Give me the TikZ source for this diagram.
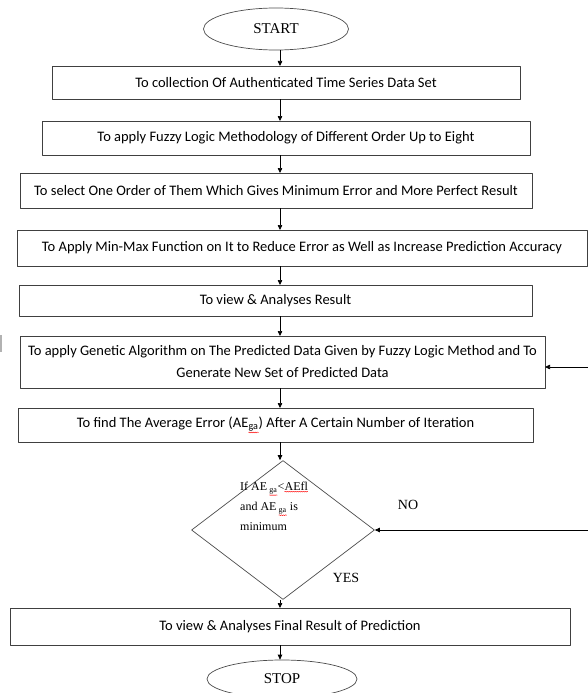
\documentclass[tikz,border=0pt]{standalone}
\usepackage{fontspec}
\setmainfont{Carlito}
\newfontfamily\serifface{Liberation Serif}
\usetikzlibrary{arrows.meta,shapes.geometric,decorations.pathmorphing}
\newcommand\redwave[1]{\tikz[baseline=(w.base)]{\node[rectangle, inner sep=0pt, outer sep=0pt, draw=none,
        minimum width=0pt, minimum height=0pt] (w) {#1};
    \draw[red, line width=0.4pt, decorate, decoration={snake,amplitude=0.5pt,segment length=2pt}]
        ([yshift=-1pt]w.south west) -- ([yshift=-1pt]w.south east);}}
\tikzset{
    procbox/.style={
        draw=black!75, line width=0.8pt, inner sep=2pt, outer sep=0pt,
        align=center, font=\fontsize{14.5}{22}\selectfont
    },
    termnode/.style={
        ellipse, draw=black!70, line width=0.7pt, inner sep=0pt,
        font=\serifface\fontsize{15}{18}\selectfont
    },
    flow/.style={
        -{Triangle[length=5pt,width=4.5pt]}, line width=0.7pt
    },
    lab/.style={
        font=\serifface\fontsize{14}{16}\selectfont
    }
}

\begin{document}
\begin{tikzpicture}[x=1pt,y=-1pt,line join=round]

% --- frame (pixel grid of the reference) ---
    \useasboundingbox (0,0) rectangle (588,693);
    \coordinate (axis) at (280,0); % common x of the down arrows

% terminals
    \node[termnode, minimum width=145, minimum height=42] (start) at (276,29) {START};
    \node[termnode, minimum width=150, minimum height=38] (stop) at (282,679) {STOP};

% process boxes
    \node[procbox, minimum width=468, minimum height=33] (collect) at (286,82.5)
        {To collection Of Authenticated Time Series Data Set};
    \node[procbox, minimum width=488, minimum height=34] (fuzzy) at (286,138)
        {To apply Fuzzy Logic Methodology of Different Order Up to Eight};
    \node[procbox, minimum width=512, minimum height=35] (select) at (276,190.5)
        {To select One Order of Them Which Gives Minimum Error and More Perfect Result};
    \node[procbox, minimum width=570, minimum height=36] (minmax) at (302,248)
        {To Apply Min-Max Function on It to Reduce Error as Well as Increase Prediction Accuracy};
    \node[procbox, minimum width=513, minimum height=31] (view) at (275.5,300.5)
        {To view \& Analyses Result};
    \node[procbox, minimum width=525, minimum height=52] (genetic) at (282.5,362)
        {To apply Genetic Algorithm on The Predicted Data Given by Fuzzy Logic Method and To\\
         Generate New Set of Predicted Data};
    \node[procbox, minimum width=515, minimum height=34] (average) at (275.5,425)
        {To find The Average Error (AE\redwave{\textsubscript{ga}}) After A Certain Number of Iteration};
    \node[procbox, minimum width=560, minimum height=37] (final) at (290,626.5)
        {To view \& Analyses Final Result of Prediction};

% decision
    \node[diamond, draw=black!70, line width=0.7pt, inner sep=0pt,
          minimum width=183, minimum height=139] (check) at (283,530) {};
    \node[align=left, anchor=north west, inner sep=0pt,
          font=\serifface\fontsize{12}{20}\selectfont] (cond) at (240,482)
        {If AE\,\redwave{\textsubscript{ga}}<\redwave{AEfl}\\
         and AE\,\redwave{\textsubscript{ga}} is\\
         minimum};
    \node[lab] (no) at (408,505) {NO};
    \node[lab] (yes) at (346,578) {YES};

% down arrows
    \foreach \a/\b in {start/collect,collect/fuzzy,fuzzy/select,select/minmax,
                       minmax/view,view/genetic,genetic/average,average/check,
                       check/final,final/stop}
        \draw[flow] (\a.south -| axis) -- (\b.north -| axis);

% loop back ends (coming in from the right edge)
    \coordinate (backin) at (588,367);
    \coordinate (backno) at (588,530);
    \draw[flow] (backin) -- (backin -| genetic.east);
    \draw[flow] (backno) -- (check.east);

% stray mark at the left edge
    \draw[gray!60, line width=2pt] (1,335) -- (1,352);

\end{tikzpicture}
\end{document}
